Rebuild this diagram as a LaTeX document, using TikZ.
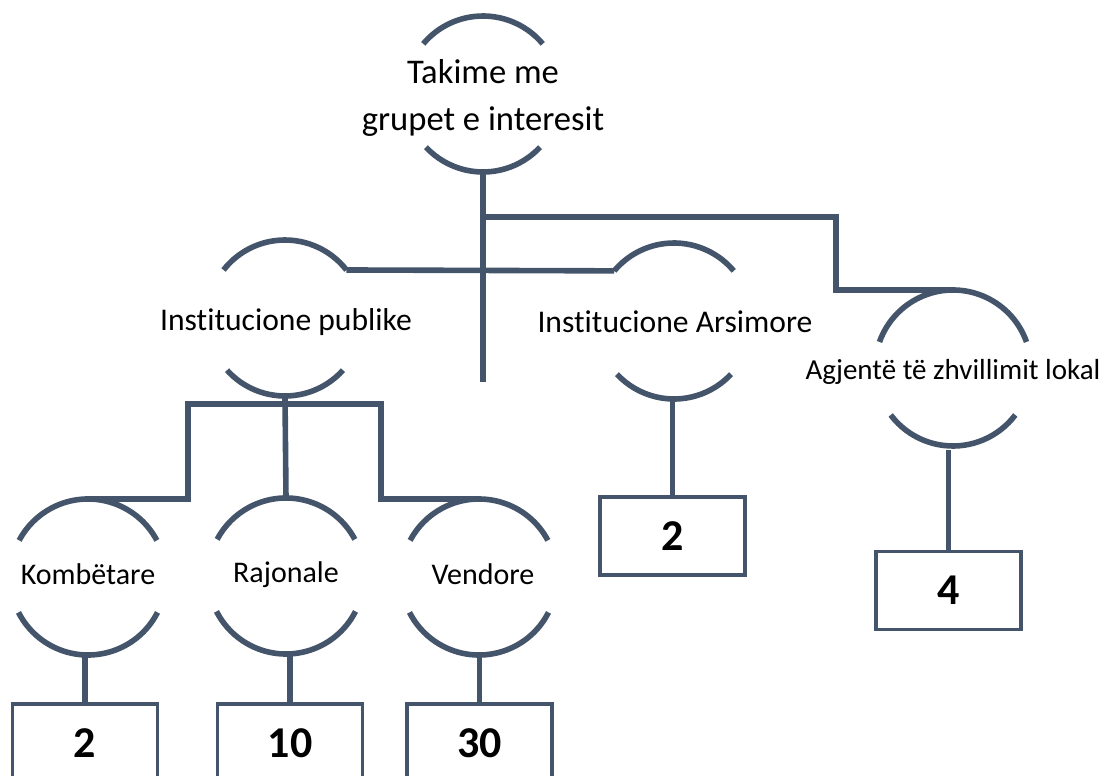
\documentclass[tikz,border=0pt]{standalone}
\usepackage{fontspec}
\setmainfont{Carlito}[Ligatures={NoCommon}]
\definecolor{slate}{RGB}{68,84,106}
\begin{document}
\begin{tikzpicture}[x=0.5pt,y=-0.5pt,
  ring/.style={circle,minimum size=78pt,inner sep=0pt,outer sep=0pt},
  arcline/.style={draw=slate,line width=2.8pt},
  conn/.style={draw=slate,line width=2.8pt},
  txtL/.style={align=center,inner sep=0pt,font=\fontsize{17.3pt}{23.5pt}\selectfont},
  txtM/.style={align=center,inner sep=0pt,font=\fontsize{15.8pt}{19pt}\selectfont},
  txtS/.style={align=center,inner sep=0pt,font=\fontsize{15pt}{18pt}\selectfont},
  txtA/.style={align=center,inner sep=0pt,font=\fontsize{14.5pt}{17pt}\selectfont},
  numbox/.style={draw=slate,line width=1.7pt,rectangle,minimum width=72.5pt,
    minimum height=39pt,inner sep=0pt,font=\fontsize{22pt}{26pt}\selectfont\bfseries}]
\useasboundingbox (0,0) rectangle (1116,776);
\newcommand\ringarcs[3]{%
  \draw[arcline] ([shift={(#2:39pt)}]#1.center) arc[start angle=#2, end angle={180-#2}, radius=39pt];
  \draw[arcline] ([shift={(-#3:39pt)}]#1.center) arc[start angle={-#3}, end angle={-180+#3}, radius=39pt];}

% ring nodes
\node[ring] (top) at (483,94) {};
\node[ring] (pub) at (285,318) {};
\node[ring] (ars) at (674,321) {};
\node[ring] (agj) at (953,368) {};
\node[ring] (kom) at (88,577) {};
\node[ring] (raj) at (286,576) {};
\node[ring] (ven) at (479,577) {};

\ringarcs{top}{40}{43}
\ringarcs{pub}{38}{42}
\ringarcs{ars}{40}{43}
\ringarcs{agj}{19.5}{37}
\ringarcs{kom}{28}{27}
\ringarcs{raj}{28}{27}
\ringarcs{ven}{28}{27}

% texts
\node[txtL] (topT) at (483,98) {Takime me\\grupet e interesit};
\node[txtM] (pubT) at (286,322) {Institucione publike};
\node[txtM] (arsT) at (675,322) {Institucione Arsimore};
\node[txtA] (agjT) at (953,372) {Agjentë të zhvillimit lokal};
\node[txtS] (komT) at (88,574) {Kombëtare};
\node[txtS] (rajT) at (286,575) {Rajonale};
\node[txtS] (venT) at (483,574) {Vendore};

% boxes
\node[numbox] (b1) at (85,743) {2};
\node[numbox] (b2) at (290,743) {10};
\node[numbox] (b3) at (479.5,743) {30};
\node[numbox] (b4) at (672.5,536) {2};
\node[numbox] (b5) at (948.5,590.5) {4};

% connectors
\coordinate (stub) at (483,382);
\coordinate (j1) at (483,217);
\coordinate (j2) at (836,290);
\coordinate (bl) at (188,404);
\coordinate (br) at (381,404);
\draw[conn] (top.south) -- (stub);
\draw[conn] (j1) -| (j2) -- (agj.north);
\draw[conn] (pub.38) -- (ars.140);
\draw[conn] (pub.south) -- (raj.north);
\draw[conn] (kom.north) -| (bl) -- (br) |- (ven.north);
\draw[conn] (b1.north |- kom.south) -- (b1.north);
\draw[conn] (b2.north |- raj.south) -- (b2.north);
\draw[conn] (b3.north |- ven.south) -- (b3.north);
\draw[conn] (b4.north |- ars.south) -- (b4.north);
\draw[conn] ([yshift=-2pt]b5.north |- agj.south) -- (b5.north);
\end{tikzpicture}
\end{document}
